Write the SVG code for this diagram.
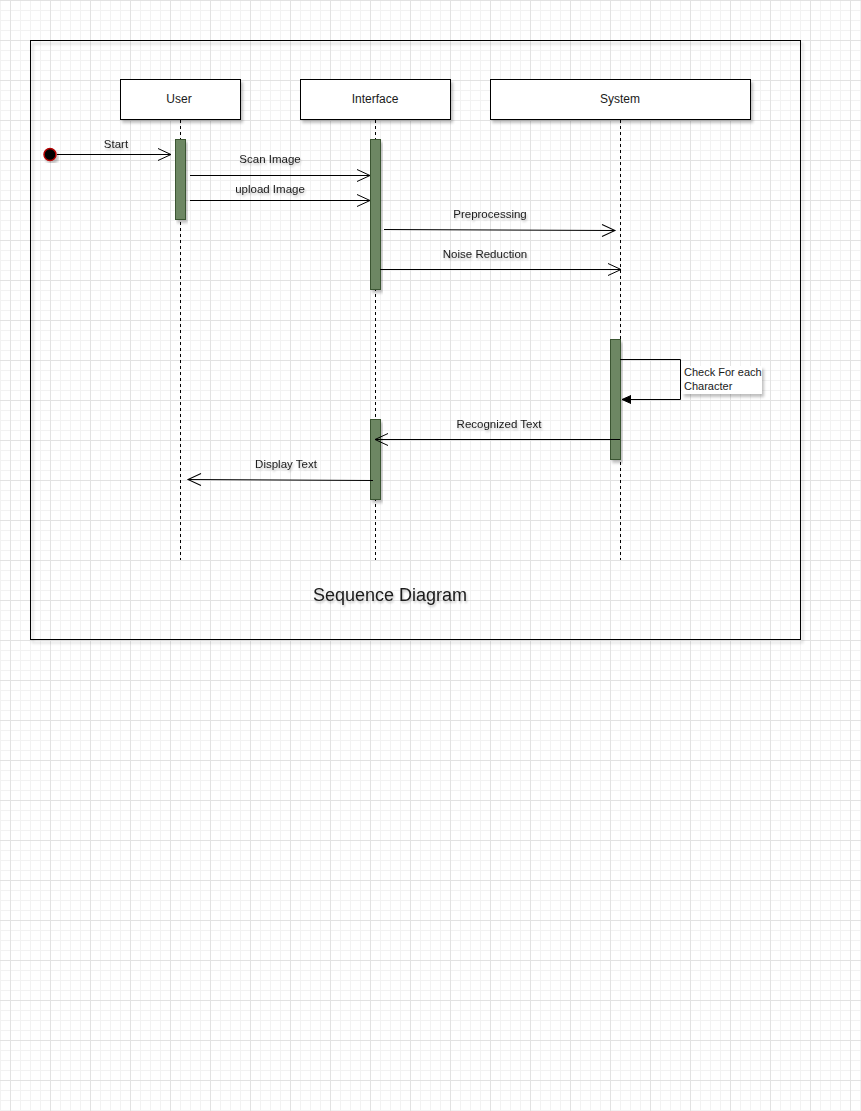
<svg xmlns="http://www.w3.org/2000/svg" width="861" height="1111" viewBox="0 0 861 1111">
<defs>
<pattern id="minor" width="10" height="10" patternUnits="userSpaceOnUse" x="0" y="0">
<path d="M0,0.5 H10 M0.5,0 V10" fill="none" stroke="#f2f2f2" stroke-width="1"/>
</pattern>
<pattern id="major" width="40" height="40" patternUnits="userSpaceOnUse" x="10" y="0">
<path d="M0.5,0 V40 M0,0.5 H40" fill="none" stroke="#e2e2e2" stroke-width="1"/>
</pattern>
<filter id="sh" x="-10%" y="-10%" width="130%" height="130%">
<feGaussianBlur in="SourceAlpha" stdDeviation="1.5"/>
<feOffset dx="2" dy="3" result="b"/>
<feComponentTransfer><feFuncA type="linear" slope="0.25"/></feComponentTransfer>
<feMerge><feMergeNode/><feMergeNode in="SourceGraphic"/></feMerge>
</filter>
<filter id="tsh" x="-10%" y="-30%" width="130%" height="180%">
<feGaussianBlur in="SourceAlpha" stdDeviation="1.2"/>
<feOffset dx="1" dy="2"/>
<feComponentTransfer><feFuncA type="linear" slope="0.25"/></feComponentTransfer>
<feMerge><feMergeNode/><feMergeNode in="SourceGraphic"/></feMerge>
</filter>
<marker id="open" markerWidth="16" markerHeight="16" refX="14" refY="8" orient="auto" markerUnits="userSpaceOnUse">
<path d="M1,2 L14,8 L1,14" fill="none" stroke="#000" stroke-width="1"/>
</marker>
<marker id="block" markerWidth="10" markerHeight="10" refX="9" refY="4" orient="auto" markerUnits="userSpaceOnUse">
<path d="M0,0 L9,4 L0,8 Z" fill="#000" stroke="#000"/>
</marker>
</defs>
<style>
.lbl{font-family:"Liberation Sans",Arial,sans-serif;font-size:11.5px;fill:#1a1a1a;text-anchor:middle}
.hd{font-family:"Liberation Sans",Arial,sans-serif;font-size:12px;fill:#1a1a1a;text-anchor:middle}
.box{fill:#fff;stroke:#000;stroke-width:1}
.life{stroke:#000;stroke-width:1;stroke-dasharray:3,3;fill:none}
.act{fill:#6d8764;stroke:#3a5431;stroke-width:1}
.msg{stroke:#000;stroke-width:1;fill:none}
</style>
<rect width="861" height="1111" fill="#fff"/>
<rect width="861" height="1111" fill="url(#minor)"/>
<rect width="861" height="1111" fill="url(#major)"/>

<g id="frame">
<rect x="30.5" y="40.5" width="770" height="599" fill="none" stroke="#000" stroke-width="1" filter="url(#sh)"/>
<text x="390" y="601" style="font-family:'Liberation Sans',Arial,sans-serif;font-size:18px;fill:#1a1a1a;text-anchor:middle" filter="url(#tsh)">Sequence Diagram</text>
</g>

<g id="user">
<line class="life" x1="180.5" y1="120" x2="180.5" y2="560"/>
<rect class="box" x="120.5" y="79.5" width="120" height="40" filter="url(#sh)"/>
<text class="hd" x="179" y="103">User</text>
<rect class="act" x="175.5" y="139.5" width="10" height="80" filter="url(#sh)"/>
</g>

<g id="interface">
<line class="life" x1="375.5" y1="120" x2="375.5" y2="560"/>
<rect class="box" x="300.5" y="79.5" width="150" height="40" filter="url(#sh)"/>
<text class="hd" x="375" y="103">Interface</text>
<rect class="act" x="370.5" y="139.5" width="10" height="150" filter="url(#sh)"/>
<rect class="act" x="370.5" y="419.5" width="10" height="80" filter="url(#sh)"/>
</g>

<g id="system">
<line class="life" x1="620.5" y1="120" x2="620.5" y2="560"/>
<rect class="box" x="490.5" y="79.5" width="260" height="40" filter="url(#sh)"/>
<text class="hd" x="620" y="103">System</text>
<rect class="act" x="610.5" y="339.5" width="10" height="120" filter="url(#sh)"/>
</g>

<g id="start">
<circle cx="50" cy="154.5" r="6" fill="#000" stroke="#b20000" stroke-width="1.5" filter="url(#sh)"/>
</g>

<g id="connectors">
<line class="msg" x1="57" y1="154.5" x2="171" y2="154.5" marker-end="url(#open)"/>
<text class="lbl" x="116" y="148" filter="url(#tsh)">Start</text>
<line class="msg" x1="190" y1="175.5" x2="370" y2="175.5" marker-end="url(#open)"/>
<text class="lbl" x="270" y="163" filter="url(#tsh)">Scan Image</text>
<line class="msg" x1="190" y1="200.5" x2="370" y2="200.5" marker-end="url(#open)"/>
<text class="lbl" x="270" y="193" filter="url(#tsh)">upload Image</text>
<line class="msg" x1="384" y1="229.5" x2="615" y2="230.5" marker-end="url(#open)"/>
<text class="lbl" x="490" y="218" filter="url(#tsh)">Preprocessing</text>
<line class="msg" x1="380" y1="269.5" x2="621" y2="269.5" marker-end="url(#open)"/>
<text class="lbl" x="485" y="258" filter="url(#tsh)">Noise Reduction</text>
<polyline class="msg" points="620,359.5 680.5,359.5 680.5,399.5 622,399.5" marker-end="url(#block)"/>
<g filter="url(#sh)">
<rect x="682" y="366" width="80" height="28" fill="#fff"/>
</g>
<text x="684" y="376" style="font-family:'Liberation Sans',Arial,sans-serif;font-size:11px;fill:#1a1a1a">Check For each</text>
<text x="684" y="390" style="font-family:'Liberation Sans',Arial,sans-serif;font-size:11px;fill:#1a1a1a">Character</text>
<line class="msg" x1="620" y1="439.5" x2="375" y2="439.5" marker-end="url(#open)"/>
<text class="lbl" x="499" y="428" filter="url(#tsh)">Recognized Text</text>
<line class="msg" x1="373" y1="480.5" x2="188" y2="479.5" marker-end="url(#open)"/>
<text class="lbl" x="286" y="468" filter="url(#tsh)">Display Text</text>
</g>
</svg>
